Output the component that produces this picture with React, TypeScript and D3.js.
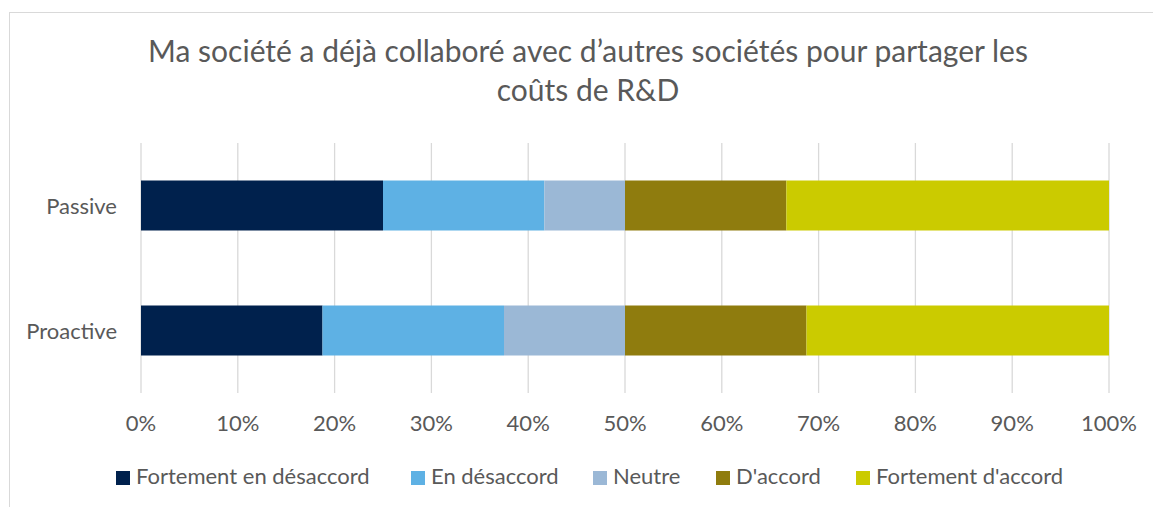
import { useMemo } from 'react';
import * as d3 from 'd3';

const categories = ['Passive', 'Proactive'];
const seriesNames = [
  'Fortement en désaccord',
  'En désaccord',
  'Neutre',
  "D'accord",
  "Fortement d'accord",
];
const seriesColors = ['#00214d', '#5eb1e4', '#9bb8d6', '#8f7c0e', '#cbcb00'];
// share of answers per category, in the order of seriesNames
const passiveValues = [0.25, 0.1667, 0.0833, 0.1667, 0.3333];
const proactiveValues = [0.1875, 0.1875, 0.125, 0.1875, 0.3125];
const tickValues = [0, 0.1, 0.2, 0.3, 0.4, 0.5, 0.6, 0.7, 0.8, 0.9, 1];
const titleLines = [
  'Ma société a déjà collaboré avec d’autres sociétés pour partager les',
  'coûts de R&D',
];
const legendX = [116, 411, 593, 716, 856];

const WIDTH = 1153;
const HEIGHT = 507;
const FONT = 'Lato, "Noto Sans", sans-serif';
const TEXT = '#595959';

export default function App() {
  const x = useMemo(() => d3.scaleLinear().domain([0, 1]).range([141, 1109]), []);
  const y = useMemo(
    () =>
      d3
        .scaleBand<string>()
        .domain(categories)
        .range([143, 393])
        .paddingInner(0.6)
        .paddingOuter(0.3),
    [],
  );

  const stacked = useMemo(() => {
    const rows = categories.map((cat, i) => {
      const vals = i === 0 ? passiveValues : proactiveValues;
      const row: Record<string, number | string> = { category: cat };
      seriesNames.forEach((s, j) => (row[s] = vals[j]));
      return row;
    });
    return d3.stack<Record<string, number | string>>().keys(seriesNames)(rows as any);
  }, []);

  return (
    <svg
      width={WIDTH}
      height={HEIGHT}
      style={{ position: 'absolute', left: 0, top: 0, display: 'block', background: '#fff' }}
      fontFamily={FONT}
    >
      <rect x={9.5} y={12.5} width={WIDTH} height={HEIGHT} fill="#fff" stroke="#d9d9d9" />

      {titleLines.map((line, i) => (
        <text
          key={i}
          x={588}
          y={62 + i * 39}
          textAnchor="middle"
          fontSize={30}
          fill={TEXT}
        >
          {line}
        </text>
      ))}

      {tickValues.map((t) => (
        <g key={t}>
          <line
            x1={x(t)}
            x2={x(t)}
            y1={143}
            y2={393}
            stroke="#d9d9d9"
            strokeWidth={1.3}
          />
          <text x={x(t)} y={431} textAnchor="middle" fontSize={22} fill={TEXT}>
            {d3.format('.0%')(t)}
          </text>
        </g>
      ))}

      {stacked.map((layer, j) => (
        <g key={layer.key} fill={seriesColors[j]}>
          {layer.map((d, i) => (
            <rect
              key={i}
              x={x(d[0])}
              width={x(d[1]) - x(d[0])}
              y={y(categories[i])}
              height={y.bandwidth()}
            />
          ))}
        </g>
      ))}

      {categories.map((c) => (
        <text
          key={c}
          x={117}
          y={(y(c) ?? 0) + y.bandwidth() / 2 + 8}
          textAnchor="end"
          fontSize={22}
          fill={TEXT}
        >
          {c}
        </text>
      ))}

      {seriesNames.map((s, j) => (
        <g key={s} transform={`translate(${legendX[j]},0)`}>
          <rect x={0} y={471} width={14} height={14} fill={seriesColors[j]} />
          <text x={20} y={484} fontSize={22} fill={TEXT}>
            {s}
          </text>
        </g>
      ))}
    </svg>
  );
}
